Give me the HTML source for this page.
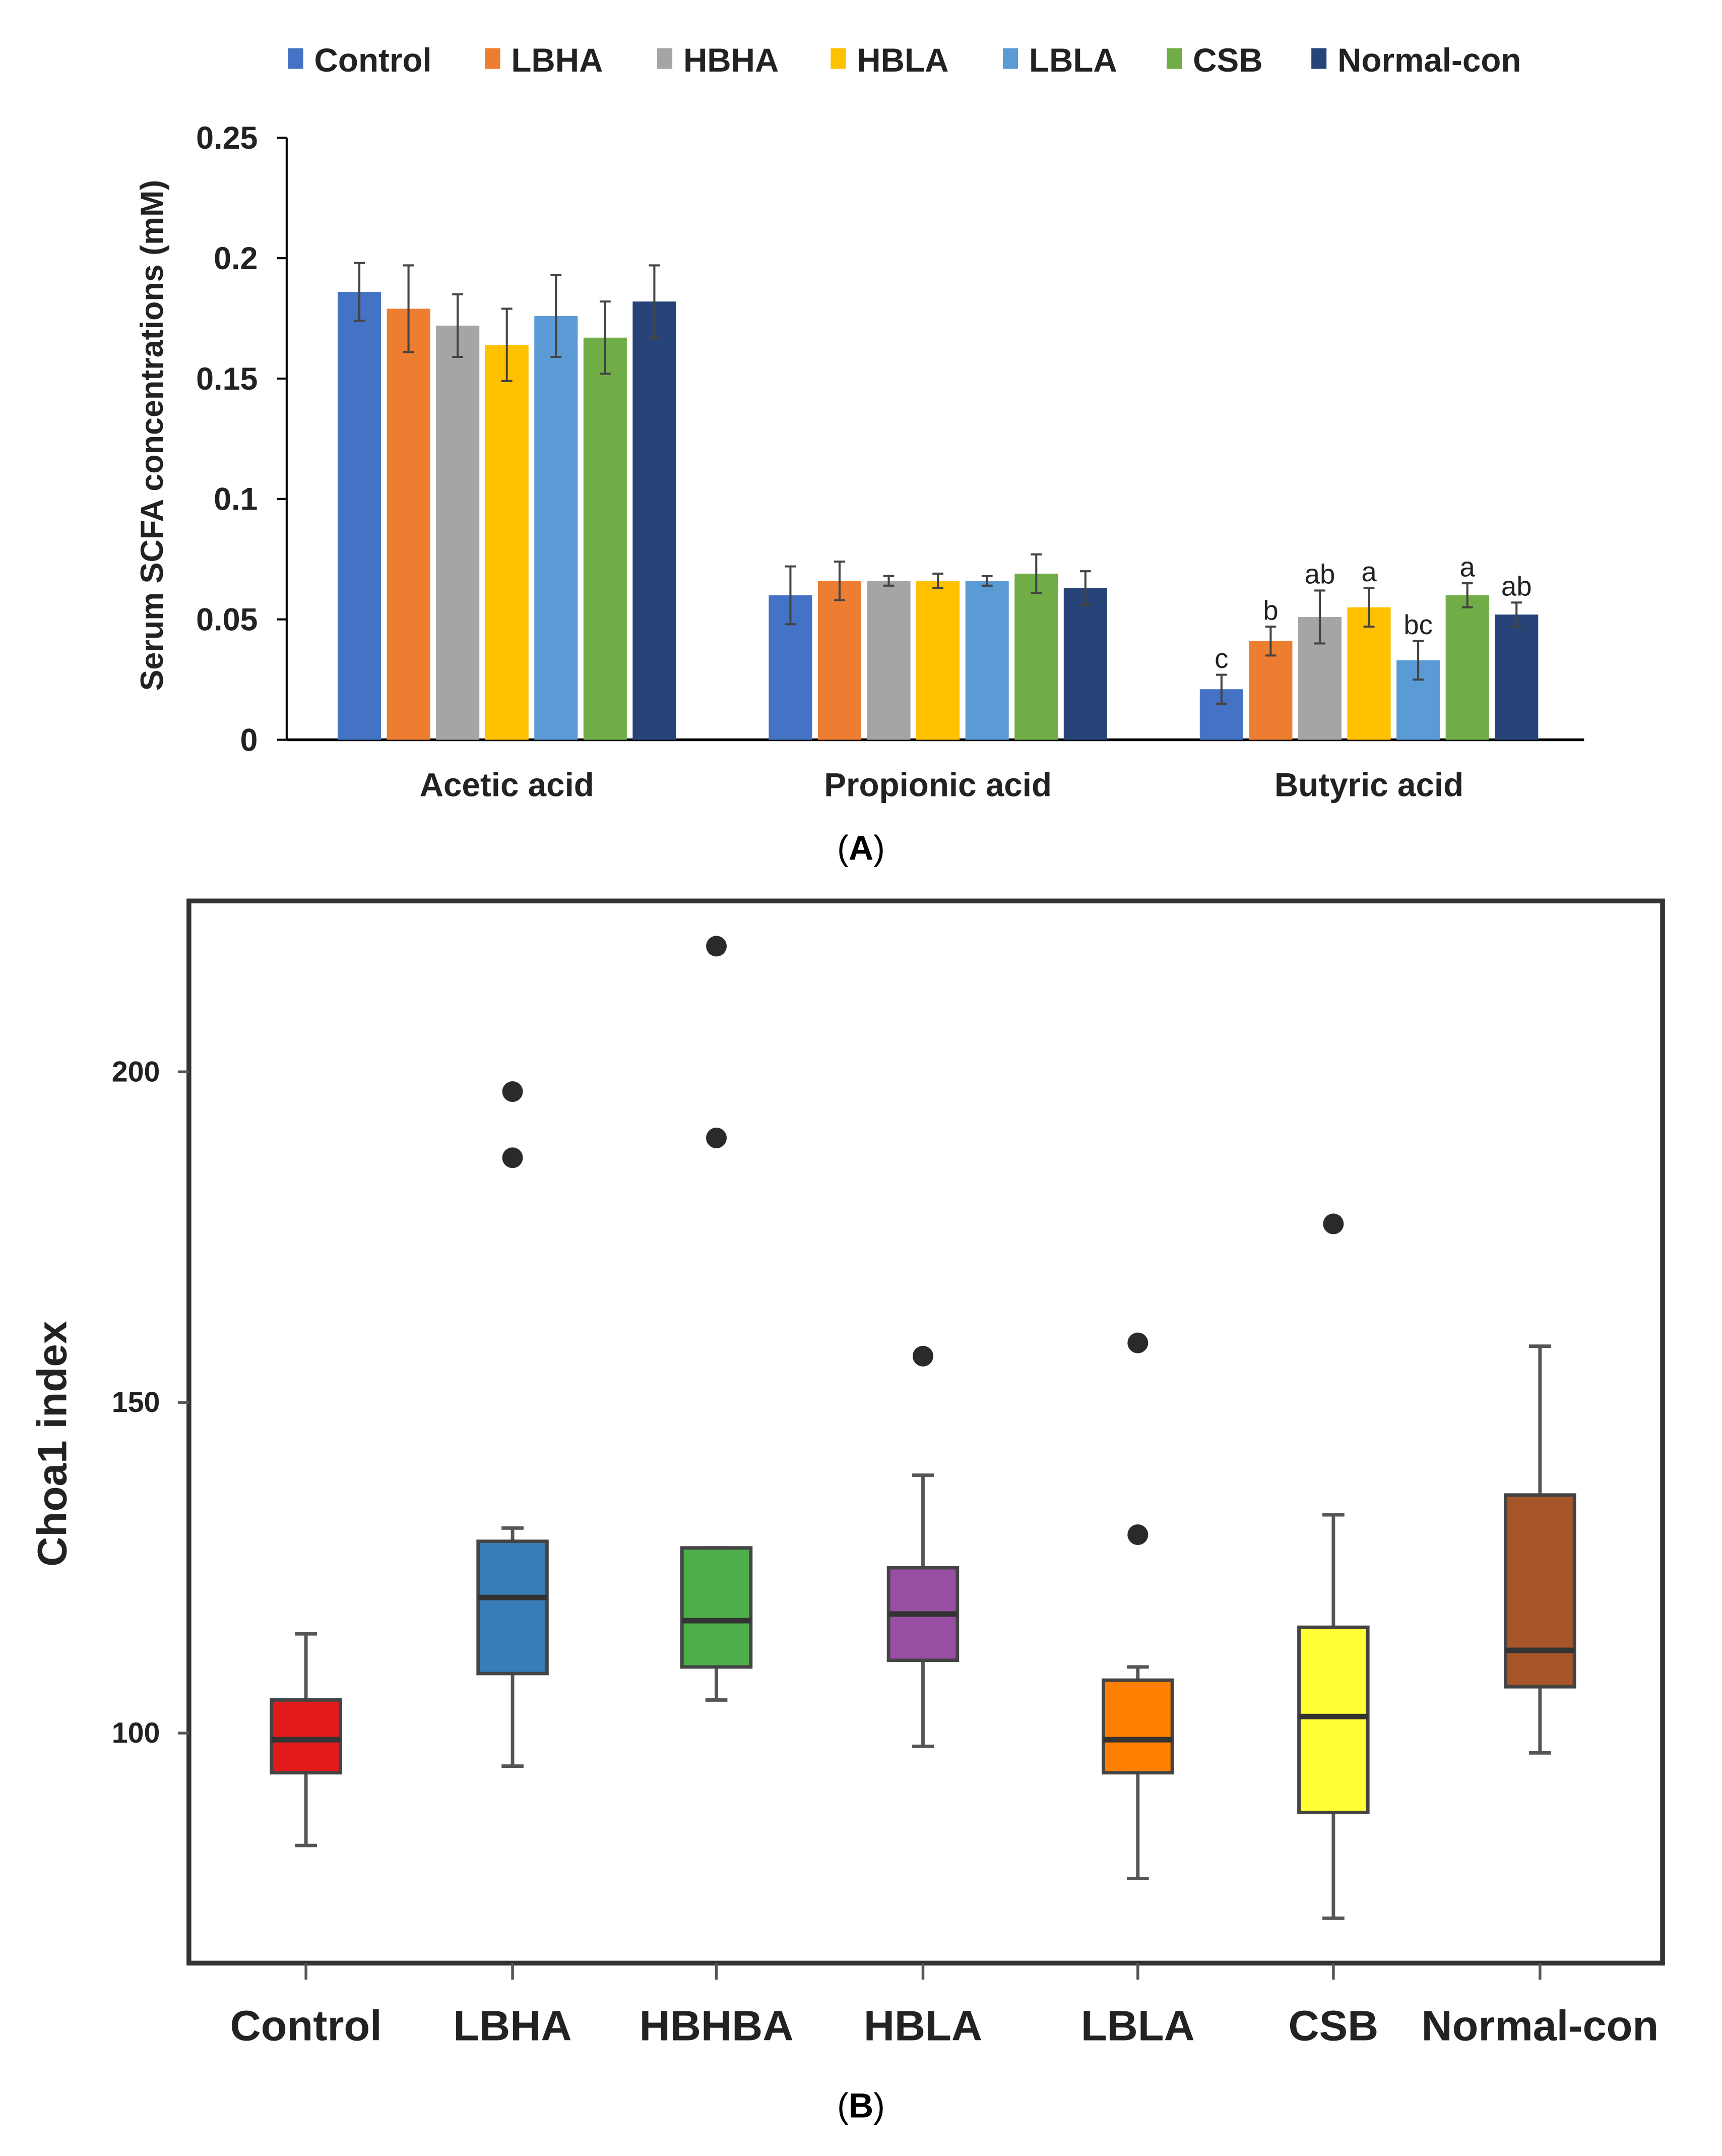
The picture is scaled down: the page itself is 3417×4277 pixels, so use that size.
<!DOCTYPE html>
<html><head><meta charset="utf-8"><style>
html,body{margin:0;padding:0;background:#fff}
svg{display:block}
text{font-family:"Liberation Sans",sans-serif}
</style></head><body>
<svg id="fig" width="3417" height="4277" viewBox="0 0 1250 1565" xmlns="http://www.w3.org/2000/svg">
<g id="pa"></g>
<g id="pb"></g>
</svg>
<script>
// Panel A data
const groupsA = ["Control","LBHA","HBHA","HBLA","LBLA","CSB","Normal-con"];
const colorsA = ["#4472C4","#ED7D31","#A5A5A5","#FFC000","#5B9BD5","#70AD47","#264478"];
const catsA = ["Acetic acid","Propionic acid","Butyric acid"];
const aceticVals = [0.186,0.179,0.172,0.164,0.176,0.167,0.182];
const aceticErr = [0.012,0.018,0.013,0.015,0.017,0.015,0.015];
const propionicVals = [0.060,0.066,0.066,0.066,0.066,0.069,0.063];
const propionicErr = [0.012,0.008,0.002,0.003,0.002,0.008,0.007];
const butyricVals = [0.021,0.041,0.051,0.055,0.033,0.060,0.052];
const butyricErr = [0.006,0.006,0.011,0.008,0.008,0.005,0.005];
const butyricLetters = ["c","b","ab","a","bc","a","ab"];
const ticksA = [0,0.05,0.1,0.15,0.2,0.25];
const tickLabelsA = ["0","0.05","0.1","0.15","0.2","0.25"];

// Panel B data
const groupsB = ["Control","LBHA","HBHBA","HBLA","LBLA","CSB","Normal-con"];
const colorsB = ["#e31a1c","#377eb8","#4daf4a","#984ea3","#ff7f00","#ffff33","#a65628"];
const whiskLo = [83,95,105,98,78,72,97];
const q1 = [94,109,110,111,94,88,107];
const medians = [99,120.5,117,118,99,102.5,112.5];
const q3 = [105,129,128,125,108,116,136];
const whiskHi = [115,131,128,139,110,133,158.5];
const outliers = [[],[187,197],[190,219],[157],[130,159],[177],[]];
const ticksB = [100,150,200];

const NS="http://www.w3.org/2000/svg";
function mk(parent,tag,attrs,txt){const e=document.createElementNS(NS,tag);for(const k in attrs)e.setAttribute(k,attrs[k]);if(txt!==undefined)e.textContent=txt;parent.appendChild(e);return e;}

// ---- Panel A ----
const pa=document.getElementById('pa');
const yA=v=>537-(v/0.25)*437;
const seriesVals=[aceticVals,propionicVals,butyricVals];
const seriesErr=[aceticErr,propionicErr,butyricErr];
const gStart=[245,558,871], step=35.7, bw=31.5;
let e;
e=mk(pa,'line',{x1:208,y1:100,x2:208,y2:537,stroke:'#000','stroke-width':1.5});


e=mk(pa,'line',{x1:208,y1:537,x2:1150,y2:537,stroke:'#000','stroke-width':2});


ticksA.forEach((t,i)=>{
  mk(pa,'line',{x1:201,y1:yA(t),x2:208,y2:yA(t),stroke:'#000','stroke-width':1.5});
  e=mk(pa,'text',{x:187,y:yA(t)+8,'text-anchor':'end','font-size':23,'font-weight':'bold',fill:'#222'},tickLabelsA[i]);
  
  
});
e=mk(pa,'text',{transform:'translate(118,316) rotate(-90)','text-anchor':'middle','font-size':23,'font-weight':'bold',fill:'#222'},'Serum SCFA concentrations (mM)');


catsA.forEach((c,ci)=>{
  seriesVals[ci].forEach((v,i)=>{
    const x=gStart[ci]+i*step;
    e=mk(pa,'rect',{x:x,y:yA(v),width:bw,height:537-yA(v),fill:colorsA[i]});
    
    
    const er=seriesErr[ci][i], cx=x+bw/2;
    mk(pa,'line',{x1:cx,y1:yA(v+er),x2:cx,y2:yA(v-er),stroke:'#444','stroke-width':1.5});
    mk(pa,'line',{x1:cx-4,y1:yA(v+er),x2:cx+4,y2:yA(v+er),stroke:'#444','stroke-width':1.5});
    mk(pa,'line',{x1:cx-4,y1:yA(v-er),x2:cx+4,y2:yA(v-er),stroke:'#444','stroke-width':1.5});
    if(ci===2){
      e=mk(pa,'text',{x:cx,y:yA(v+er)-5,'text-anchor':'middle','font-size':20,fill:'#222'},butyricLetters[i]);
      
      
    }
  });
  e=mk(pa,'text',{x:gStart[ci]+3*step+bw/2,y:578,'text-anchor':'middle','font-size':24,'font-weight':'bold',fill:'#222'},c);
  
  
});
const legX=[209,352,477,603,728,847,952];
groupsA.forEach((g,i)=>{
  e=mk(pa,'rect',{x:legX[i],y:35,width:11,height:15,fill:colorsA[i]});
  
  
  e=mk(pa,'text',{x:legX[i]+19,y:52,'font-size':24,'font-weight':'bold',fill:'#222'},g);
  
  
});
e=mk(pa,'text',{x:625,y:624,'text-anchor':'middle','font-size':25,'font-family':'Liberation Serif',fill:'#000'},'');
e.innerHTML='(<tspan font-weight="bold">A</tspan>)';



// ---- Panel B ----
const pb=document.getElementById('pb');
const yB=v=>1258-(v-100)*4.8;
const xB=[222,372,520,670,826,968,1118];
e=mk(pb,'rect',{x:137,y:654,width:1070,height:771,fill:'none',stroke:'#333','stroke-width':3.5});


ticksB.forEach(t=>{
  mk(pb,'line',{x1:129,y1:yB(t),x2:137,y2:yB(t),stroke:'#555','stroke-width':2});
  e=mk(pb,'text',{x:116,y:yB(t)+7,'text-anchor':'end','font-size':21,'font-weight':'bold',fill:'#222'},String(t));
  
  
});
e=mk(pb,'text',{transform:'translate(48,1048) rotate(-90)','text-anchor':'middle','font-size':30,'font-weight':'bold',fill:'#222'},'Choa1 index');


groupsB.forEach((g,i)=>{
  const x=xB[i], w=50;
  mk(pb,'line',{x1:x,y1:1425,x2:x,y2:1437,stroke:'#555','stroke-width':2});
  mk(pb,'line',{x1:x,y1:yB(whiskHi[i]),x2:x,y2:yB(whiskLo[i]),stroke:'#555','stroke-width':2.5});
  mk(pb,'line',{x1:x-8,y1:yB(whiskHi[i]),x2:x+8,y2:yB(whiskHi[i]),stroke:'#555','stroke-width':2.5});
  mk(pb,'line',{x1:x-8,y1:yB(whiskLo[i]),x2:x+8,y2:yB(whiskLo[i]),stroke:'#555','stroke-width':2.5});
  e=mk(pb,'rect',{x:x-w/2,y:yB(q3[i]),width:w,height:yB(q1[i])-yB(q3[i]),fill:colorsB[i],stroke:'#444','stroke-width':2.5});
  
  
  e=mk(pb,'line',{x1:x-w/2,y1:yB(medians[i]),x2:x+w/2,y2:yB(medians[i]),stroke:'#333','stroke-width':4});
  
  
  outliers[i].forEach(o=>{
    e=mk(pb,'circle',{cx:x,cy:yB(o),r:7.5,fill:'#2a2a2a'});
    
    
  });
  e=mk(pb,'text',{x:x,y:1481,'text-anchor':'middle','font-size':31,'font-weight':'bold',fill:'#222'},g);
  
  
});
e=mk(pb,'text',{x:625,y:1537,'text-anchor':'middle','font-size':25,'font-family':'Liberation Serif',fill:'#000'},'');
e.innerHTML='(<tspan font-weight="bold">B</tspan>)';


</script>
</body></html>
